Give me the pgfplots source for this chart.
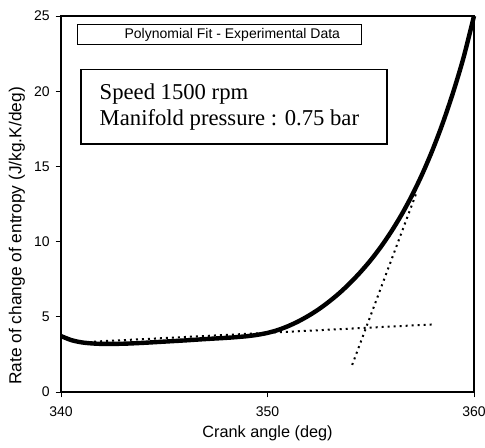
\documentclass[border=0pt]{standalone}
\usepackage{pgfplots}
\pgfplotsset{compat=1.18}
\usepackage{fontspec}
\setmainfont{Liberation Sans}
\newfontfamily\timesfont{Liberation Serif}
\begin{document}
\begin{tikzpicture}
\useasboundingbox (-45.75pt,-41.25pt) rectangle (318pt,294pt);
\begin{axis}[
  at={(0,0)}, anchor=south west,
  scale only axis, width=309.75pt, height=282pt,
  xmin=340, xmax=360, ymin=0, ymax=25,
  xtick={340,350,360}, ytick={0,5,10,15,20,25},
  tick align=outside, xtick pos=left, ytick pos=left,
  major tick length=4pt,
  axis line style={line width=0.9pt},
  every tick/.style={black, line width=0.7pt},
  tick label style={font=\fontsize{10.5}{12}\selectfont},
  xticklabel style={yshift=-3.5pt},
  yticklabel style={xshift=-1pt},
  /pgf/number format/assume math mode=true,
  /pgf/number format/1000 sep={},
  xlabel={Crank angle (deg)},
  ylabel={Rate of change of entropy (J/kg.K/deg)},
  xlabel style={font=\fontsize{12.2}{14}\selectfont},
  ylabel style={font=\fontsize{13}{15}\selectfont, at={(ticklabel cs:0.415)}},
  clip=false,
]
\addplot[black, line width=3.3pt, smooth] coordinates {
(340,3.72) (340.5,3.45) (341,3.3) (341.5,3.23) (342,3.2) (343,3.21) (344,3.27)
(345,3.35) (346,3.43) (347,3.52) (348,3.60) (348.5,3.65) (349,3.71) (349.5,3.80)
(350,3.93) (350.5,4.12) (351,4.38) (351.5,4.70) (352,5.08) (352.5,5.52) (353,6.03)
(353.5,6.60) (354,7.25) (354.5,7.97) (355,8.77) (355.5,9.67) (356,10.68) (356.5,11.81)
(357,13.08) (357.5,14.51) (358,16.12) (358.5,17.93) (359,19.97) (359.5,22.27) (360,25)
};
\addplot[black, line width=1.5pt, dash pattern=on 1.5pt off 3pt] coordinates {(341.6,3.35) (358.1,4.5)};
\addplot[black, line width=1.5pt, dash pattern=on 1.5pt off 3pt] coordinates {(354.1,1.8) (357.2,13.2)};
\node[draw, line width=0.7pt, minimum width=213pt, minimum height=15pt, inner sep=0pt] (a) at (axis cs:347.65,23.77) {};
\node[font=\fontsize{10.5}{12}\selectfont, inner sep=0pt] at ([xshift=10pt]a.center) {Polynomial Fit - Experimental Data};
\node[draw, line width=1.1pt, minimum width=229.5pt, minimum height=56pt, inner sep=0pt] (b) at (axis cs:348.37,18.97) {};
\node[anchor=west, align=left, font=\timesfont\fontsize{17}{19.5}\selectfont, inner sep=0pt] at ([xshift=14.5pt]b.west) {Speed 1500 rpm\\Manifold pressure : 0.75 bar};
\end{axis}
\end{tikzpicture}
\end{document}
